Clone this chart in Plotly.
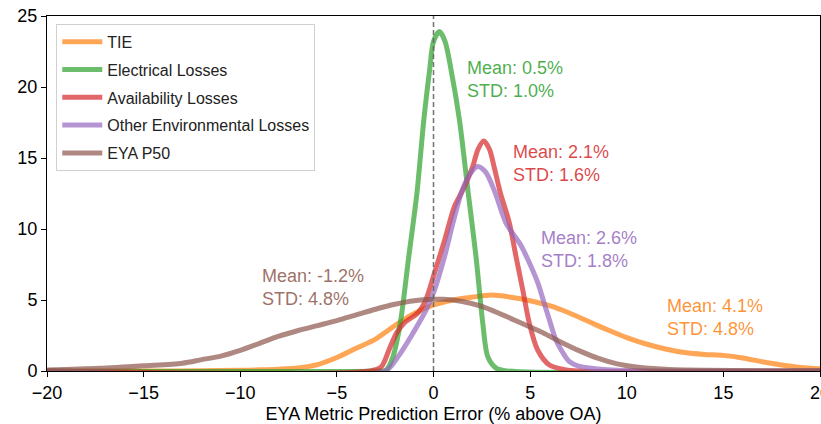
import plotly.graph_objects as go

# ---- data ----
series_names = ["TIE", "Electrical Losses", "Availability Losses",
                "Other Environmental Losses", "EYA P50"]

tie_x = [-20, -14, -12, -10, -9, -8, -7, -6, -5, -4, -3, -2, -1, 0, 1, 2, 3, 4, 5, 6,
         7, 8, 9, 10, 11, 12, 13, 14, 15, 16, 17, 18, 19, 20]
tie_y = [0.0, 0.0, 0.02, 0.05, 0.08, 0.13, 0.22, 0.45, 0.95, 1.6, 2.25, 3.2, 4.05, 4.65,
         5.0, 5.2, 5.35, 5.2, 4.95, 4.6, 4.1, 3.5, 2.9, 2.35, 1.9, 1.55, 1.3, 1.17, 1.1,
         0.92, 0.65, 0.42, 0.25, 0.15]

el_x = [-20, -3.0, -2.45, -2.1, -1.72, -1.28, -0.86, -0.5, -0.2, 0.0, 0.31, 0.6, 0.91,
        1.34, 1.8, 2.2, 2.55, 2.81, 3.24, 3.8, 20]
el_y = [0, 0, 0.07, 1.0, 3.36, 8.05, 12.5, 17.7, 21.2, 23.2, 23.9, 23.2, 21.2,
        17.7, 12.5, 8.05, 3.36, 1.0, 0.2, 0, 0]

av_x = [-20, -3.3, -2.7, -2.3, -1.9, -1.5, -0.8, -0.4, 0.05, 0.57, 1.09, 1.5, 2.03,
        2.3, 2.6, 2.9, 3.15, 3.45, 3.93, 4.27, 4.62, 4.96, 5.39, 6.0, 6.8, 7.5, 20]
av_y = [0, 0, 0.3, 1.5, 2.7, 3.4, 4.1, 5.0, 6.9, 9.2, 11.6, 12.7, 14.4,
        15.6, 16.2, 15.6, 14.3, 12.6, 10.4, 8.05, 5.7, 3.36, 1.48, 0.42, 0.1, 0, 0]

env_x = [-20, -2.5, -1.84, -1.07, -0.38, 0.05, 0.57, 1.0, 1.48, 1.9, 2.29, 2.7, 3.15,
         3.76, 4.5, 5.0, 5.4, 5.7, 6.0, 6.3, 6.6, 7.0, 7.5, 8.5, 9.5, 20]
env_y = [0, 0, 1.0, 2.65, 4.3, 5.7, 8.05, 10.4, 12.7, 13.9, 14.4, 14.0, 12.7,
         10.4, 8.9, 7.5, 6.2, 4.9, 3.6, 2.3, 1.5, 0.7, 0.35, 0.15, 0.05, 0]

eya_x = [-20, -17.3, -15, -13, -12, -11, -10, -9, -8, -7, -6, -5, -4, -3, -2, -1, 0,
         0.5, 1.5, 2.5, 3.5, 4.5, 5.5, 6.5, 7.5, 8.5, 9.5, 10.5, 12, 14, 20]
eya_y = [0.07, 0.19, 0.37, 0.55, 0.8, 1.05, 1.45, 1.95, 2.45, 2.85, 3.2, 3.55, 3.95, 4.35,
         4.7, 4.95, 5.05, 5.05, 4.9, 4.55, 4.0, 3.4, 2.8, 2.1, 1.45, 0.9, 0.5, 0.28,
         0.12, 0.05, 0.0]

label_texts = ["Mean: 4.1%<br>STD: 4.8%", "Mean: 0.5%<br>STD: 1.0%",
               "Mean: 2.1%<br>STD: 1.6%", "Mean: 2.6%<br>STD: 1.8%",
               "Mean: -1.2%<br>STD: 4.8%"]
label_x = [12.0, 1.65, 4.0, 5.45, -9.0]
label_y = [3.77, 20.56, 14.63, 8.58, 5.86]

x_ticks = [-20, -15, -10, -5, 0, 5, 10, 15, 20]
y_ticks = [0, 5, 10, 15, 20, 25]

# ---- styling ----
rgb = ["255,127,14", "44,160,44", "214,39,40", "148,103,189", "140,86,75"]
FONT = "Liberation Sans, Arial, sans-serif"

xs = [tie_x, el_x, av_x, env_x, eya_x]
ys = [tie_y, el_y, av_y, env_y, eya_y]

fig = go.Figure()
for i, name in enumerate(series_names):
    fig.add_trace(go.Scatter(
        x=xs[i], y=ys[i], mode="lines", name=name, legendgroup=name,
        line=dict(color=f"rgba({rgb[i]},0.7)", width=5, shape="spline", smoothing=0.8),
        hoverinfo="skip"))

for i in range(len(series_names)):
    fig.add_annotation(x=label_x[i], y=label_y[i], text=label_texts[i], showarrow=False,
                       xanchor="left", yanchor="middle", align="left",
                       font=dict(family=FONT, size=18, color=f"rgba({rgb[i]},0.85)"))

fig.add_shape(type="line", x0=0, x1=0, xref="x", y0=0, y1=1, yref="paper",
              line=dict(color="rgba(100,100,100,0.9)", width=1.5, dash="5px,3px"),
              layer="above")

fig.update_layout(
    width=821, height=424,
    margin=dict(l=47, r=1, t=16, b=53),
    paper_bgcolor="white", plot_bgcolor="white",
    font=dict(family=FONT, size=18, color="black"),
    showlegend=True,
    legend=dict(x=0.012, y=0.978, xanchor="left", yanchor="top",
                bgcolor="rgba(255,255,255,0.85)", bordercolor="#d0d0d0", borderwidth=1,
                font=dict(family=FONT, size=16, color="#222"),
                itemwidth=40, tracegroupgap=4, traceorder="grouped"),
    xaxis=dict(range=[-20, 20], tickvals=x_ticks, showgrid=False, zeroline=False,
               showline=True, linecolor="black", linewidth=1, mirror=True,
               ticks="outside", ticklen=5, tickcolor="black", automargin=False,
               ticklabeloverflow="allow",
               title=dict(text="EYA Metric Prediction Error (% above OA)", standoff=8,
                          font=dict(size=18))),
    yaxis=dict(range=[0, 25], tickvals=y_ticks, showgrid=False, zeroline=False,
               showline=True, linecolor="black", linewidth=1, mirror=True,
               ticks="outside", ticklen=5, tickcolor="black", automargin=False),
)

fig.write_html("out.html")
